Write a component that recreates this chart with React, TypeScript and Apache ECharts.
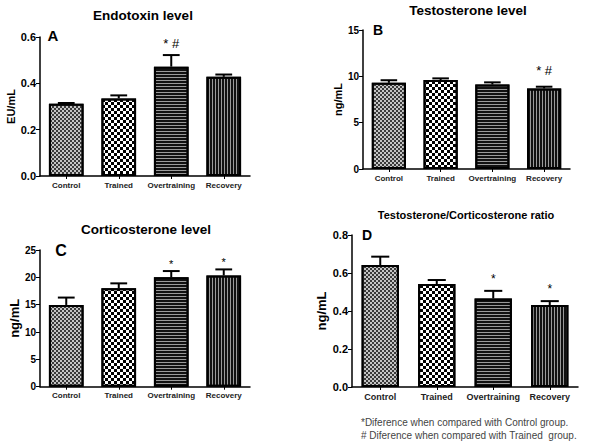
import React, { useEffect, useRef } from 'react';
import * as echarts from 'echarts';

const categories = ['Control', 'Trained', 'Overtraining', 'Recovery'];

const endotoxinMean = [0.312, 0.335, 0.472, 0.428];
const endotoxinUpper = [0.315, 0.348, 0.522, 0.438];
const endotoxinMarks = ['', '', '* #', ''];
const endotoxinTicks = [0, 0.2, 0.4, 0.6];

const testosteroneMean = [9.3, 9.6, 9.12, 8.7];
const testosteroneUpper = [9.58, 9.78, 9.35, 8.88];
const testosteroneMarks = ['', '', '', '* #'];
const testosteroneTicks = [0, 5, 10, 15];

const corticosteroneMean = [14.95, 18.0, 20.0, 20.35];
const corticosteroneUpper = [16.3, 18.9, 21.15, 21.45];
const corticosteroneMarks = ['', '', '*', '*'];
const corticosteroneTicks = [0, 5, 10, 15, 20, 25];

const ratioMean = [0.642, 0.542, 0.466, 0.431];
const ratioUpper = [0.686, 0.563, 0.506, 0.452];
const ratioMarks = ['', '', '*', '*'];
const ratioTicks = [0, 0.2, 0.4, 0.6, 0.8];

const footnotes = [
  '*Diference when compared with Control group.',
  '# Diference when compared with Trained  group.',
];

const FONT = '"Liberation Sans", Arial, sans-serif';

const barStyles = [
  {
    color: '#c4c4c4',
    decal: { symbol: 'rect', symbolSize: 1, color: '#3a3a3a', dashArrayX: [[1.5, 1.5], [0, 1.5, 1.5, 0]], dashArrayY: [1.5, 0] },
  },
  {
    color: '#ffffff',
    decal: { symbol: 'rect', symbolSize: 1, color: '#000', dashArrayX: [[3, 3], [0, 3, 3, 0]], dashArrayY: [3, 0] },
  },
  {
    color: '#9a9a9a',
    decal: { symbol: 'rect', symbolSize: 1, color: '#111', dashArrayX: [1, 0], dashArrayY: [2, 1] },
  },
  {
    color: '#9a9a9a',
    decal: { symbol: 'rect', symbolSize: 1, color: '#111', dashArrayX: [2, 1], dashArrayY: [1, 0] },
  },
];

const panels = [
  {
    title: 'Endotoxin level', titleX: 143, titleY: 15, titleSize: 13.5,
    letter: 'A', letterX: 53, letterY: 35, letterSize: 15,
    yName: 'EU/mL', yNameSize: 11, yNameGap: 22,
    grid: { left: 40, top: 37, width: 210, height: 139 },
    mean: endotoxinMean, upper: endotoxinUpper, marks: endotoxinMarks, ticks: endotoxinTicks,
    decimals: 1, tickSize: 11, catSize: 8, markSize: 13, markGap: 5,
  },
  {
    title: 'Testosterone level', titleX: 468, titleY: 10, titleSize: 13.5,
    letter: 'B', letterX: 378, letterY: 30, letterSize: 14,
    yName: 'ng/mL', yNameSize: 11, yNameGap: 17,
    grid: { left: 363, top: 30, width: 207, height: 139 },
    mean: testosteroneMean, upper: testosteroneUpper, marks: testosteroneMarks, ticks: testosteroneTicks,
    decimals: 0, tickSize: 10, catSize: 8, markSize: 13, markGap: 10,
  },
  {
    title: 'Corticosterone level', titleX: 146, titleY: 229, titleSize: 13.5,
    letter: 'C', letterX: 61, letterY: 250, letterSize: 16,
    yName: 'ng/mL', yNameSize: 13, yNameGap: 17,
    grid: { left: 40, top: 250, width: 210, height: 136.7 },
    mean: corticosteroneMean, upper: corticosteroneUpper, marks: corticosteroneMarks, ticks: corticosteroneTicks,
    decimals: 0, tickSize: 10, catSize: 8, markSize: 11, markGap: 2,
  },
  {
    title: 'Testosterone/Corticosterone ratio', titleX: 466, titleY: 215, titleSize: 11,
    letter: 'D', letterX: 367, letterY: 235, letterSize: 14,
    yName: 'ng/mL', yNameSize: 13, yNameGap: 24,
    grid: { left: 352, top: 235, width: 226, height: 152 },
    mean: ratioMean, upper: ratioUpper, marks: ratioMarks, ticks: ratioTicks,
    decimals: 1, tickSize: 11, catSize: 9, markSize: 12, markGap: 6,
  },
];

function buildOption() {
  const grid: any[] = [];
  const xAxis: any[] = [];
  const yAxis: any[] = [];
  const series: any[] = [];
  const graphic: any[] = [];

  panels.forEach((p, k) => {
    grid.push({ ...p.grid, containLabel: false, outerBoundsMode: 'none' });
    xAxis.push({
      type: 'category',
      gridIndex: k,
      data: categories,
      axisLine: { show: true, lineStyle: { color: '#000', width: 1.5 } },
      axisTick: { show: true, alignWithLabel: true, length: 3, lineStyle: { color: '#000', width: 1 } },
      axisLabel: { interval: 0, margin: 5, fontFamily: FONT, fontSize: p.catSize, fontWeight: 'bold', color: '#222' },
      splitLine: { show: false },
    });
    const step = p.ticks[1] - p.ticks[0];
    yAxis.push({
      type: 'value',
      gridIndex: k,
      min: p.ticks[0],
      max: p.ticks[p.ticks.length - 1],
      interval: step,
      name: p.yName,
      nameLocation: 'middle',
      nameRotate: 90,
      nameGap: p.yNameGap,
      nameTextStyle: { fontFamily: FONT, fontSize: p.yNameSize, fontWeight: 'bold', color: '#000' },
      axisLine: { show: true, lineStyle: { color: '#000', width: 1.5 } },
      axisTick: { show: true, length: 4, lineStyle: { color: '#000', width: 1 } },
      axisLabel: {
        margin: 4,
        fontFamily: FONT,
        fontSize: p.tickSize,
        fontWeight: 'bold',
        color: '#000',
        formatter: (v: number) => v.toFixed(p.decimals),
      },
      splitLine: { show: false },
    });
    series.push({
      type: 'bar',
      xAxisIndex: k,
      yAxisIndex: k,
      barWidth: '66%',
      data: p.mean.map((v, i) => ({
        value: v,
        itemStyle: { color: barStyles[i].color, decal: barStyles[i].decal, borderColor: '#000', borderWidth: 2 },
      })),
      z: 2,
    });
    series.push({
      type: 'custom',
      xAxisIndex: k,
      yAxisIndex: k,
      z: 3,
      encode: { x: 0, y: 2 },
      data: p.mean.map((v, i) => [i, v, p.upper[i]]),
      renderItem: (params: any, api: any) => {
        const i = api.value(0);
        const base = api.coord([i, api.value(1)]);
        const top = api.coord([i, api.value(2)]);
        const band = api.size([1, 0])[0];
        const cap = band * 0.16;
        const children: any[] = [
          { type: 'line', shape: { x1: base[0], y1: base[1], x2: top[0], y2: top[1] }, style: { stroke: '#000', lineWidth: 2 } },
          { type: 'line', shape: { x1: top[0] - cap, y1: top[1], x2: top[0] + cap, y2: top[1] }, style: { stroke: '#000', lineWidth: 2 } },
        ];
        const mark = p.marks[params.dataIndex];
        if (mark) {
          children.push({
            type: 'text',
            x: top[0],
            y: top[1] - p.markGap,
            style: {
              text: mark,
              fill: '#000',
              font: `${p.markSize}px ${FONT}`,
              align: 'center',
              verticalAlign: 'bottom',
              textAlign: 'center',
              textVerticalAlign: 'bottom',
            },
          });
        }
        return { type: 'group', children };
      },
    });

    graphic.push({
      type: 'text',
      x: p.titleX,
      y: p.titleY,
      style: {
        text: p.title,
        fill: '#000',
        font: `bold ${p.titleSize}px ${FONT}`,
        align: 'center', verticalAlign: 'middle', textAlign: 'center', textVerticalAlign: 'middle',
      },
    });
    graphic.push({
      type: 'text',
      x: p.letterX,
      y: p.letterY,
      style: {
        text: p.letter,
        fill: '#000',
        font: `bold ${p.letterSize}px ${FONT}`,
        align: 'center', verticalAlign: 'middle', textAlign: 'center', textVerticalAlign: 'middle',
      },
    });
  });

  footnotes.forEach((t, i) => {
    graphic.push({
      type: 'text',
      x: 361,
      y: 422 + i * 13,
      style: {
        text: t,
        fill: '#444',
        font: `10px ${FONT}`,
        align: 'left', verticalAlign: 'middle', textAlign: 'left', textVerticalAlign: 'middle',
      },
    });
  });

  return {
    animation: false,
    backgroundColor: '#ffffff',
    grid,
    xAxis,
    yAxis,
    series,
    graphic,
  };
}

export default function App() {
  const ref = useRef<HTMLDivElement>(null);
  useEffect(() => {
    if (!ref.current) return;
    const chart = echarts.init(ref.current, null, { renderer: 'svg' });
    chart.setOption(buildOption() as any);
    return () => chart.dispose();
  }, []);
  return (
    <div
      ref={ref}
      style={{ position: 'fixed', left: 0, top: 0, width: 600, height: 448, background: '#fff' }}
    />
  );
}
